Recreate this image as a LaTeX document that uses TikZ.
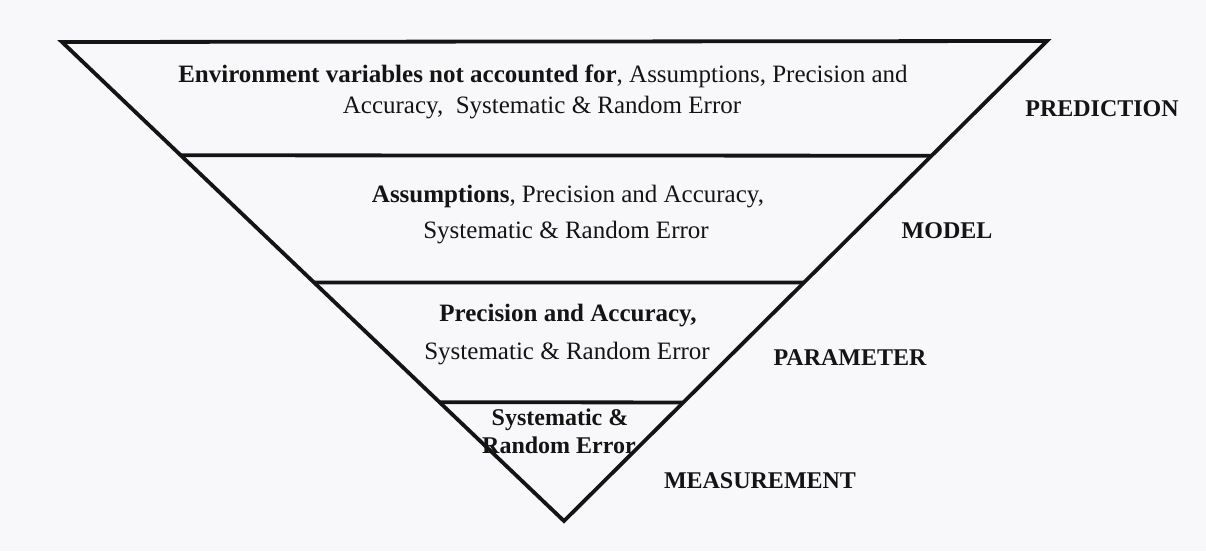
\documentclass[tikz,border=0pt]{standalone}
\usepackage{fontspec}
\setmainfont{Liberation Serif}
\usetikzlibrary{calc}
\definecolor{bgcol}{RGB}{248,248,251}
\definecolor{inkcol}{RGB}{20,20,20}
\tikzset{
  edge/.style={draw=inkcol, line width=3.8pt, line join=miter},
  body/.style={anchor=base, inner sep=0pt, text=inkcol, font=\fontsize{25}{30}\selectfont},
  lvl/.style={anchor=base, inner sep=0pt, text=inkcol, font=\fontsize{24}{30}\selectfont\bfseries},
}
\begin{document}
\begin{tikzpicture}[x=1pt,y=-1pt]
\fill[bgcol] (0,0) rectangle (1206,551);
\useasboundingbox (0,0) rectangle (1206,551);
\coordinate (TL) at (62,42);
\coordinate (TR) at (1047,41);
\coordinate (B) at (564,521);
\draw[edge, fill=bgcol] (TL) -- (TR) -- (B) -- cycle;
% divider lines
\coordinate (L1) at ($(TL)!0.2365!(B)$);
\coordinate (R1) at ($(TR)!0.2390!(B)$);
\coordinate (L2) at ($(TL)!0.5020!(B)$);
\coordinate (R2) at ($(TR)!0.5030!(B)$);
\coordinate (L3) at ($(TL)!0.7520!(B)$);
\coordinate (R3) at ($(TR)!0.7530!(B)$);
\draw[edge] (L1) -- (R1);
\draw[edge] (L2) -- (R2);
\draw[edge] (L3) -- (R3);
% layer texts
\node[body] (t1a) at (543,82) {\textbf{Environment variables not accounted for}, Assumptions, Precision and};
\node[body] (t1b) at (542,113) {Accuracy,\ \ Systematic \& Random Error};
\node[body] (t2a) at (568,202) {\textbf{Assumptions}, Precision and Accuracy,};
\node[body] (t2b) at (566,238) {Systematic \& Random Error};
\node[body] (t3a) at (568,321) {\textbf{Precision and Accuracy,}};
\node[body] (t3b) at (567,359) {Systematic \& Random Error};
\node[lvl] (t4a) at (560,425) {Systematic \&};
\node[lvl] (t4b) at (559,453) {Random Error};
% level labels
\node[lvl] (pred) at (1102,116) {PREDICTION};
\node[lvl] (model) at (947,238) {MODEL};
\node[lvl] (param) at (850,365) {PARAMETER};
\node[lvl] (meas) at (760,488) {MEASUREMENT};
\end{tikzpicture}
\end{document}
